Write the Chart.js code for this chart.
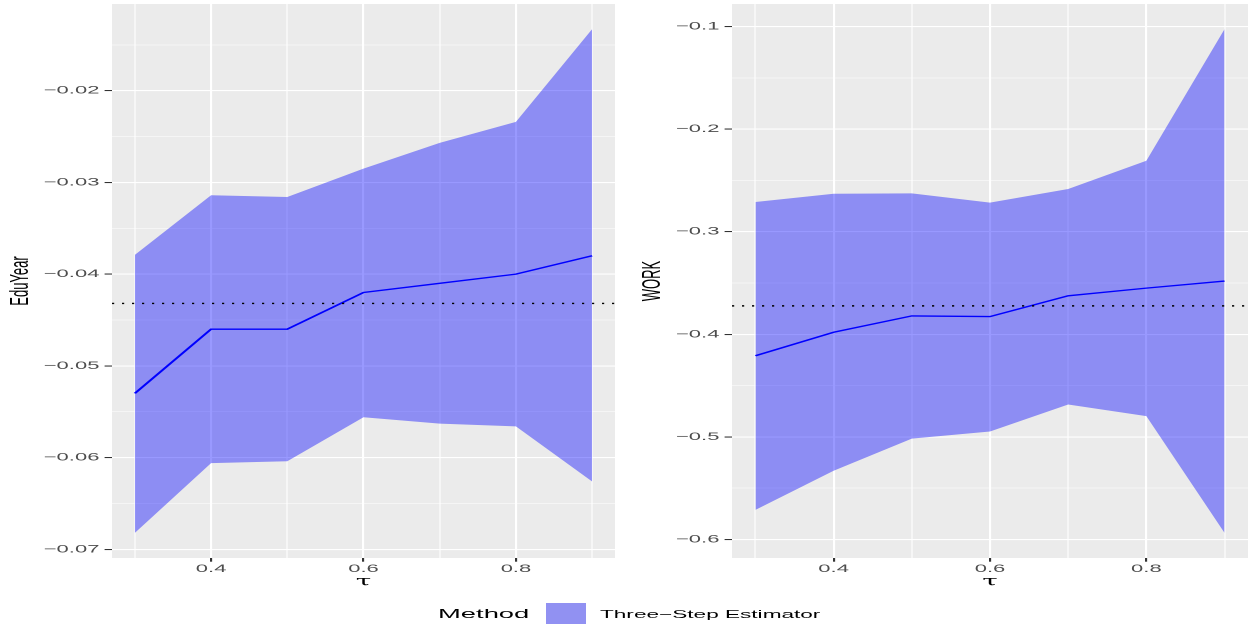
<!DOCTYPE html>
<html>
<head>
<meta charset="utf-8">
<script src="https://cdn.jsdelivr.net/npm/chart.js@4.4.1/dist/chart.umd.min.js"></script>
<style>
  html, body { margin: 0; padding: 0; background: #fff; overflow: hidden; }
  /* the reference is a horizontally stretched ggplot, so draw at half width and stretch */
  #stage { position: absolute; left: 0; top: 0; width: 626.5px; height: 625px; transform: scaleX(2); transform-origin: 0 0; }
  #left { position: absolute; left: 0; top: 0; }
  #right { position: absolute; left: 316px; top: 0; }
  .lg { position: absolute; font-family: 'Liberation Sans', Arial, sans-serif; color: #000; white-space: nowrap; }
  #lgTitle { left: 219px; top: 606.5px; font-size: 13.7px; line-height: 13.7px; }
  #lgKey { left: 272.5px; top: 602.5px; width: 20px; height: 21px; background: rgb(145,145,242); }
  #lgLabel { left: 300px; top: 608.7px; font-size: 11.3px; line-height: 11.3px; }
</style>
</head>
<body>
<div id="stage">
  <canvas id="left" width="310" height="592"></canvas>
  <canvas id="right" width="310.5" height="592"></canvas>
  <div class="lg" id="lgTitle">Method</div>
  <div class="lg" id="lgKey"></div>
  <div class="lg" id="lgLabel">Three−Step Estimator</div>
</div>
<script>
const tau = [0.3, 0.4, 0.5, 0.6, 0.7, 0.8, 0.9];
const tauBreaks = [0.4, 0.6, 0.8];

const eduLower = [-0.0682, -0.0606, -0.0604, -0.0556, -0.0563, -0.0566, -0.0626];
const eduEstimate = [-0.0530, -0.0460, -0.0460, -0.0420, -0.0410, -0.0400, -0.0380];
const eduUpper = [-0.0379, -0.0314, -0.0316, -0.0285, -0.0257, -0.0234, -0.0133];
const eduReference = -0.0432;
const eduBreaks = [-0.07, -0.06, -0.05, -0.04, -0.03, -0.02];

const workLower = [-0.5711, -0.5330, -0.5017, -0.4948, -0.4684, -0.4798, -0.5935];
const workEstimate = [-0.4209, -0.3980, -0.3821, -0.3827, -0.3625, -0.3550, -0.3481];
const workUpper = [-0.2710, -0.2630, -0.2626, -0.2717, -0.2584, -0.2309, -0.1026];
const workReference = -0.3723;
const workBreaks = [-0.6, -0.5, -0.4, -0.3, -0.2, -0.1];

Chart.defaults.font.family = "'Liberation Sans', Arial, sans-serif";

function expand(values) {
    const lo = Math.min(...values), hi = Math.max(...values);
    const pad = (hi - lo) * 0.05;
    return [lo - pad, hi + pad];
}

function isBreak(v, breaks) {
    return breaks.some(b => Math.abs(b - v) < 1e-9);
}

function fmt(v, digits) {
    return (v < 0 ? '\u2212' : '') + Math.abs(v).toFixed(digits);
}

const panelBg = {
    id: 'panelBg',
    beforeDraw(chart) {
        const {ctx, chartArea: a} = chart;
        ctx.save();
        ctx.fillStyle = '#EBEBEB';
        ctx.fillRect(a.left, a.top, a.right - a.left, a.bottom - a.top);
        ctx.restore();
    }
};

function gridOpts(breaks) {
    return {
        color: '#FFFFFF',
        lineWidth: c => (c.tick && isBreak(c.tick.value, breaks)) ? 1.07 : 0.55,
        tickColor: c => (c.tick && isBreak(c.tick.value, breaks)) ? '#333333' : 'rgba(0,0,0,0)',
        tickWidth: 1.07,
        tickLength: 3.7
    };
}

function makePanel(id, title, lower, estimate, upper, reference, breaks, step, digits, axisWidth, rightPad) {
    const xr = expand(tau);
    const yr = expand(lower.concat(upper));
    const pts = arr => tau.map((t, i) => ({x: t, y: arr[i]}));

    return new Chart(document.getElementById(id), {
        type: 'line',
        data: {
            datasets: [
                {
                    data: [{x: xr[0], y: reference}, {x: xr[1], y: reference}],
                    borderColor: '#000000',
                    borderWidth: 1.4,
                    borderDash: [1.1, 3.9],
                    pointRadius: 0,
                    fill: false
                },
                {
                    data: pts(estimate),
                    borderColor: '#0000FF',
                    borderWidth: 1.35,
                    pointRadius: 0,
                    fill: false
                },
                {
                    data: pts(upper),
                    borderWidth: 0,
                    borderColor: 'rgba(0,0,0,0)',
                    backgroundColor: 'rgba(0,0,255,0.4)',
                    pointRadius: 0,
                    fill: '+1'
                },
                {
                    data: pts(lower),
                    borderWidth: 0,
                    borderColor: 'rgba(0,0,0,0)',
                    pointRadius: 0,
                    fill: false
                }
            ]
        },
        options: {
            responsive: false,
            animation: false,
            devicePixelRatio: 2,
            events: [],
            layout: {padding: {left: 0, right: rightPad, top: 4, bottom: 0}},
            plugins: {
                legend: {display: false},
                tooltip: {enabled: false}
            },
            scales: {
                x: {
                    type: 'linear',
                    min: xr[0],
                    max: xr[1],
                    border: {display: false},
                    grid: gridOpts(tauBreaks),
                    ticks: {
                        stepSize: 0.1,
                        includeBounds: false,
                        autoSkip: false,
                        maxRotation: 0,
                        padding: 0.5,
                        color: '#4D4D4D',
                        font: {size: 11},
                        callback: v => isBreak(v, tauBreaks) ? v.toFixed(1) : ''
                    },
                    title: {
                        display: true,
                        text: 'τ',
                        color: '#000000',
                        font: {size: 14, family: "'DejaVu Serif', serif"},
                        padding: {top: 0, bottom: 1.5}
                    },
                    afterFit: s => { s.height = 34; s.paddingLeft = 0; s.paddingRight = 0; }
                },
                y: {
                    min: yr[0],
                    max: yr[1],
                    border: {display: false},
                    grid: gridOpts(breaks),
                    ticks: {
                        stepSize: step,
                        includeBounds: false,
                        autoSkip: false,
                        padding: 2.6,
                        color: '#4D4D4D',
                        font: {size: 11},
                        callback: v => isBreak(v, breaks) ? fmt(v, digits) : ''
                    },
                    title: {
                        display: true,
                        text: title,
                        color: '#000000',
                        font: {size: 13},
                        padding: {top: 2.5, bottom: 0}
                    },
                    afterFit: s => { s.width = axisWidth; s.paddingTop = 0; s.paddingBottom = 0; }
                }
            }
        },
        plugins: [panelBg]
    });
}

makePanel('left', 'EduYear', eduLower, eduEstimate, eduUpper, eduReference, eduBreaks, 0.005, 2, 56, 2.5);
makePanel('right', 'WORK', workLower, workEstimate, workUpper, workReference, workBreaks, 0.05, 1, 50, 2);
</script>
</body>
</html>
